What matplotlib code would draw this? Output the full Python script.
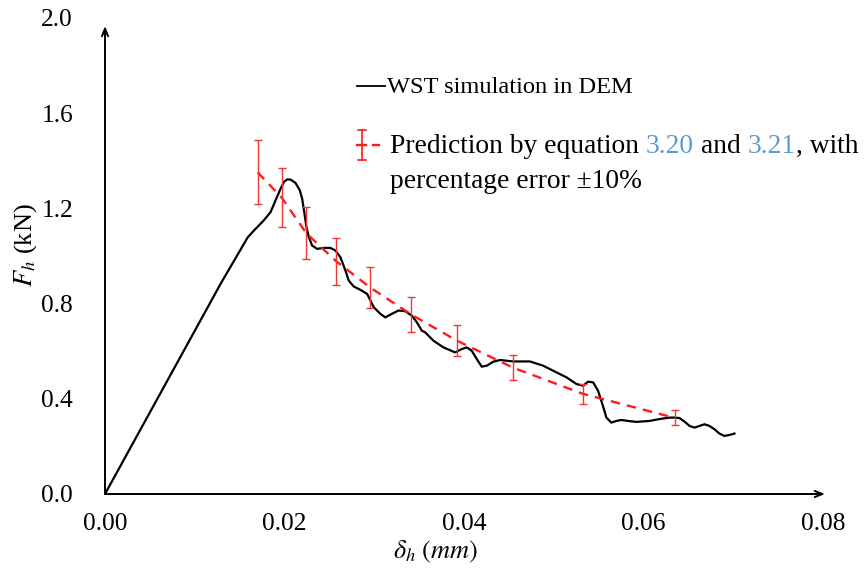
import matplotlib.pyplot as plt
from matplotlib.lines import Line2D

# WST simulation in DEM (displacement mm, force kN)
dem_x = [0.0, 0.01289, 0.01589, 0.01659, 0.01767, 0.01844, 0.01900, 0.01956, 0.01993,
         0.02030, 0.02067, 0.02122, 0.02170, 0.02196, 0.02222, 0.02244, 0.02270,
         0.02307, 0.02363, 0.02437, 0.02510, 0.02567, 0.02622, 0.02678, 0.02715,
         0.02770, 0.02844, 0.02919, 0.02948, 0.02993, 0.03067, 0.03122, 0.03196,
         0.03270, 0.03344, 0.03419, 0.03474, 0.03530, 0.03567, 0.03659, 0.03770,
         0.03900, 0.03974, 0.04030, 0.04085, 0.04141, 0.04196, 0.04252, 0.04326,
         0.04400, 0.04548, 0.04733, 0.04881, 0.04992, 0.05141, 0.05252, 0.05326,
         0.05381, 0.05437, 0.05492, 0.05540, 0.05585, 0.05640, 0.05696, 0.05752,
         0.05826, 0.05919, 0.06067, 0.06178, 0.06289, 0.06344, 0.06400, 0.06456,
         0.06511, 0.06567, 0.06622, 0.06678, 0.06733, 0.06789, 0.06844, 0.06900,
         0.06956, 0.07011]
dem_y = [0.0, 0.884, 1.078, 1.107, 1.149, 1.184, 1.234, 1.283, 1.311,
         1.322, 1.321, 1.307, 1.276, 1.241, 1.178, 1.121, 1.080,
         1.044, 1.030, 1.034, 1.034, 1.023, 0.995, 0.939, 0.897,
         0.872, 0.858, 0.841, 0.820, 0.785, 0.757, 0.742, 0.757,
         0.771, 0.768, 0.749, 0.721, 0.686, 0.679, 0.644, 0.616,
         0.595, 0.609, 0.616, 0.602, 0.567, 0.535, 0.539, 0.556,
         0.563, 0.557, 0.557, 0.539, 0.518, 0.490, 0.462, 0.455,
         0.472, 0.469, 0.434, 0.378, 0.321, 0.300, 0.307, 0.311,
         0.307, 0.303, 0.307, 0.315, 0.321, 0.321, 0.319, 0.304,
         0.286, 0.279, 0.286, 0.293, 0.286, 0.272, 0.254, 0.244,
         0.248, 0.254]

# prediction by equation 3.20 / 3.21
pred_x = [0.0170, 0.01967, 0.02244, 0.02578, 0.02956, 0.03411, 0.03922, 0.04544, 0.05322, 0.06344]
pred_y = [1.352, 1.246, 1.095, 0.977, 0.867, 0.754, 0.644, 0.531, 0.421, 0.320]
pct_err = 0.10

xticks = [0.00, 0.02, 0.04, 0.06, 0.08]
yticks = [0.0, 0.4, 0.8, 1.2, 1.6, 2.0]

plt.rcParams['font.family'] = ['Liberation Serif', 'DejaVu Serif']
plt.rcParams['mathtext.fontset'] = 'stix'

fig = plt.figure(figsize=(8.66, 5.74), dpi=100)
W, H = 866, 574
ax = fig.add_axes([105 / W, 1 - 494 / H, (825 - 105) / W, (494 - 18) / H])

ax.plot(dem_x, dem_y, color='black', lw=1.6, solid_joinstyle='round')
ax.plot(pred_x, pred_y, color='#ff1a1a', lw=1.7, dashes=(4, 3))
ax.errorbar(pred_x, pred_y, yerr=[v * pct_err for v in pred_y], fmt='none',
            ecolor='#f03535', elinewidth=1.0, capsize=3, capthick=1.0)

ax.set_xlim(0, 0.0802)
ax.set_ylim(0, 2.0)
ax.set_xticks(xticks)
ax.set_xticklabels(['%.2f' % v for v in xticks])
ax.set_yticks(yticks)
ax.set_yticklabels(['%.1f' % v for v in yticks])
ax.tick_params(length=0, labelsize=18.4)
ax.tick_params(axis='y', pad=23)
ax.tick_params(axis='x', pad=14)

for s in ax.spines.values():
    s.set_visible(False)
arrow = dict(arrowstyle='->,head_length=0.55,head_width=0.22', lw=1.4, color='black',
             shrinkA=0, shrinkB=0)
ax.annotate('', xy=(1.0, 0), xytext=(0, 0), xycoords='axes fraction', arrowprops=arrow)
ax.annotate('', xy=(0, (494 - 26) / 476), xytext=(0, 0), xycoords='axes fraction',
            arrowprops=arrow)

ax.set_ylabel(r'$F_h$ (kN)', fontsize=19)
ax.yaxis.set_label_coords(-0.092, (494 - 245) / 476)
ax.set_xlabel(r'$\delta_h\ (mm)$', fontsize=19)
ax.xaxis.set_label_coords((436 - 105) / 720, -0.095)

# hand-made legend (text with coloured equation numbers)
def px(x, y):
    return x / W, 1 - y / H

fig.add_artist(Line2D([357 / W, 385 / W], [1 - 86 / H] * 2, color='black', lw=1.3))
fig.text(*px(387, 93), 'WST simulation in DEM', fontsize=17.6, va='baseline')

red = '#ff1a1a'
fig.add_artist(Line2D([362 / W] * 2, [1 - 130 / H, 1 - 160 / H], color=red, lw=1.2))
for yy in (130, 160):
    fig.add_artist(Line2D([358 / W, 366 / W], [1 - yy / H] * 2, color=red, lw=1.2))
fig.add_artist(Line2D([357 / W, 366 / W], [1 - 145 / H] * 2, color=red, lw=1.7))
fig.add_artist(Line2D([373 / W, 379 / W], [1 - 145 / H] * 2, color=red, lw=1.7))

blue = '#5b9bd5'
fs2 = 19.8
pieces = [('Prediction by equation', 'black'), ('3.20', blue), ('and', 'black'),
          ('3.21', blue), (', with', 'black')]
gaps = [True, True, True, False]
fig.canvas.draw()
r = fig.canvas.get_renderer()
probe = fig.text(0, 0, 'a a', fontsize=fs2)
w2 = probe.get_window_extent(r).width
probe.set_text('aa')
space = w2 - probe.get_window_extent(r).width
probe.remove()
x = 390
for i, (txt, col) in enumerate(pieces):
    t = fig.text(*px(x, 153), txt, fontsize=fs2, color=col, va='baseline')
    x += t.get_window_extent(r).width
    if i < len(gaps) and gaps[i]:
        x += space
fig.text(*px(390, 188), u'percentage error \u00b110%', fontsize=fs2, va='baseline')

fig.savefig('out.png', dpi=100)
